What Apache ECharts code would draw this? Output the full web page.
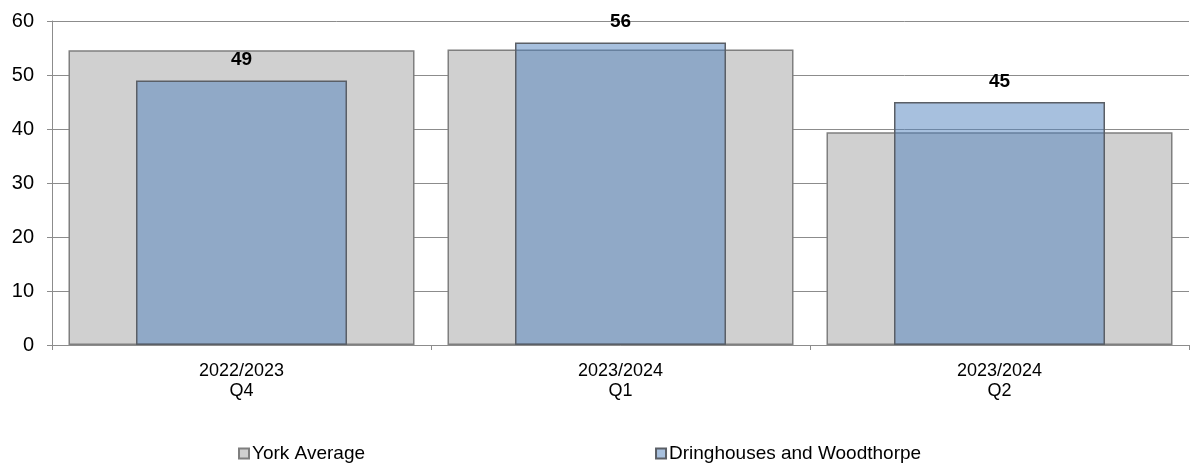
<!doctype html>
<html>
	<head>
		<meta charset="utf-8">
		<title>York Average vs Dringhouses and Woodthorpe</title>
		<script src="https://cdn.jsdelivr.net/npm/echarts@6/dist/echarts.min.js"></script>
		<style>
			html, body { margin: 0; padding: 0; background: #fff; }
			#chart { width: 1190px; height: 468px; }
		</style>
	</head>
	<body>
		<div id="chart"></div>
		<script type="text/javascript">
			// 季度
			var categories = ['2022/2023\nQ4', '2023/2024\nQ1', '2023/2024\nQ2'];
			var yorkAverage = [54.6, 54.7, 39.4];
			var dringhouses = [49, 56, 45];
			var yTicks = [0, 10, 20, 30, 40, 50, 60];

			var font = 'Liberation Sans, Arial, sans-serif';
			var chart = echarts.init(document.getElementById('chart'));

			chart.setOption({
				animation: false,
				grid: {
					left: 52,
					right: 1,
					top: 21,
					bottom: 123
				},
				legend: {
					bottom: 0,
					left: 233,
					itemGap: 290,
					itemWidth: 10,
					itemHeight: 10,
					icon: 'rect',
					textStyle: { fontFamily: font, fontSize: 19, color: '#000', padding: [0, 0, 0, -2] },
					data: ['York Average', 'Dringhouses and Woodthorpe']
				},
				xAxis: [{
					type: 'category',
					data: categories,
					axisLine: { lineStyle: { color: '#8c8c8c' } },
					axisTick: { show: true, length: 5, lineStyle: { color: '#8c8c8c' } },
					axisLabel: { fontFamily: font, fontSize: 18, color: '#000', lineHeight: 20, margin: 16 }
				}, {
					type: 'category',
					data: categories,
					show: false
				}],
				yAxis: {
					type: 'value',
					min: yTicks[0],
					max: yTicks[yTicks.length - 1],
					interval: 10,
					axisLine: { show: true, lineStyle: { color: '#8c8c8c' } },
					axisTick: { show: true, length: 5, lineStyle: { color: '#8c8c8c' } },
					axisLabel: { fontFamily: font, fontSize: 20, color: '#000', margin: 18 },
					splitLine: { lineStyle: { color: '#8c8c8c' } }
				},
				series: [{
					name: 'York Average',
					type: 'bar',
					xAxisIndex: 0,
					data: yorkAverage,
					barWidth: 346,
					itemStyle: { color: '#d0d0d0', borderColor: '#7f7f7f', borderWidth: 1.5 }
				}, {
					name: 'Dringhouses and Woodthorpe',
					type: 'bar',
					xAxisIndex: 1,
					data: dringhouses,
					barWidth: 211,
					itemStyle: { color: 'rgba(79,129,189,0.5)', borderColor: '#5a5f66', borderWidth: 1.5 },
					label: {
						show: true,
						position: 'top',
						distance: 11,
						fontFamily: font,
						fontSize: 19,
						fontWeight: 'bold',
						color: '#000'
					}
				}]
			});
		</script>
	</body>
</html>
